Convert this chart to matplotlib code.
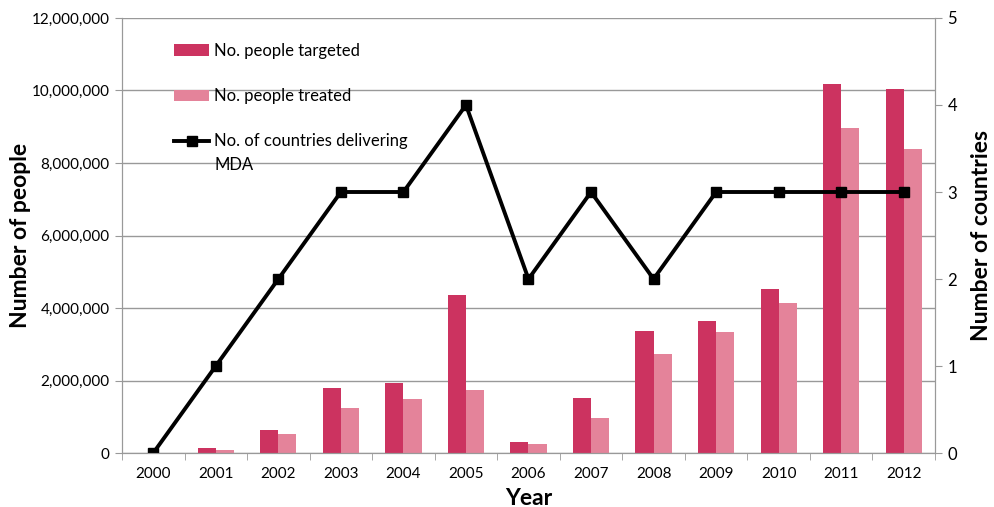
import numpy as np
import matplotlib.pyplot as plt
from matplotlib.ticker import FuncFormatter, FixedLocator

plt.rcParams['font.family'] = ['Lato', 'DejaVu Sans']

# data
years = ['2000', '2001', '2002', '2003', '2004', '2005', '2006',
         '2007', '2008', '2009', '2010', '2011', '2012']
targeted = [0, 140000, 630000, 1790000, 1930000, 4360000, 310000,
            1530000, 3370000, 3640000, 4520000, 10170000, 10030000]
treated = [0, 75000, 520000, 1240000, 1490000, 1740000, 260000,
           970000, 2720000, 3350000, 4130000, 8970000, 8380000]
countries = [0, 1, 2, 3, 3, 4, 2, 3, 2, 3, 3, 3, 3]

c_target = '#CC3360'
c_treat = '#E4839A'
grey = '#999999'

fig = plt.figure(figsize=(9.95, 5.07), dpi=100)
ax = fig.add_axes([0.1226, 0.1065, 0.8171, 0.858])
ax2 = ax.twinx()

x = np.arange(len(years))
w = 0.29
b1 = ax.bar(x - w / 2, targeted, w, color=c_target, zorder=2)
b2 = ax.bar(x + w / 2, treated, w, color=c_treat, zorder=2)
ln, = ax2.plot(x, countries, color='black', lw=2.8, marker='s', ms=7)

ax.set_xlim(-0.5, len(years) - 0.5)
ax.set_ylim(0, 12000000)
ax.set_yticks(np.arange(0, 12000001, 2000000))
ax.yaxis.set_major_formatter(FuncFormatter(lambda v, p: f'{int(v):,}'))
ax2.set_ylim(0, 5)
ax2.set_yticks(range(6))

ax.set_xticks(x)
ax.set_xticklabels(years)
ax.xaxis.set_minor_locator(FixedLocator(np.arange(-0.5, len(years), 1)))
ax.tick_params(axis='x', which='major', length=0, pad=10, labelsize=11)
ax.tick_params(axis='x', which='minor', length=5, color=grey, direction='out')
ax.tick_params(axis='y', length=5, color=grey, labelsize=11, pad=4)
ax2.tick_params(axis='y', length=5, color=grey, labelsize=12, pad=4)

ax.grid(axis='y', color=grey, lw=1, zorder=0)
ax.set_axisbelow(True)
for a in (ax, ax2):
    a.spines['top'].set_visible(False)
    for s in ('left', 'right', 'bottom'):
        a.spines[s].set_color(grey)

ax.set_xlabel('Year', fontsize=16.5, fontweight='bold', labelpad=5)
ax.set_ylabel('Number of people', fontsize=16.5, fontweight='bold', labelpad=0)
ax2.set_ylabel('Number of countries', fontsize=16.5, fontweight='bold', labelpad=10)

# legend: 3 single-line entries, second line of the last label added below
leg = ax2.legend([b1, b2, ln],
                 ['No. people targeted', 'No. people treated',
                  'No. of countries delivering'],
                 loc='upper left', bbox_to_anchor=(0.046, 0.977), frameon=False,
                 fontsize=12, labelspacing=1.75, handlelength=2.1,
                 handletextpad=0.3, borderpad=0.4)
fig.canvas.draw()
t3 = leg.get_texts()[2]
bb = t3.get_window_extent()
fig.text(bb.x0 / fig.bbox.width, (bb.y0 - 8) / fig.bbox.height, 'MDA',
         fontsize=12, va='top', ha='left')

fig.savefig('out.png', dpi=100)
